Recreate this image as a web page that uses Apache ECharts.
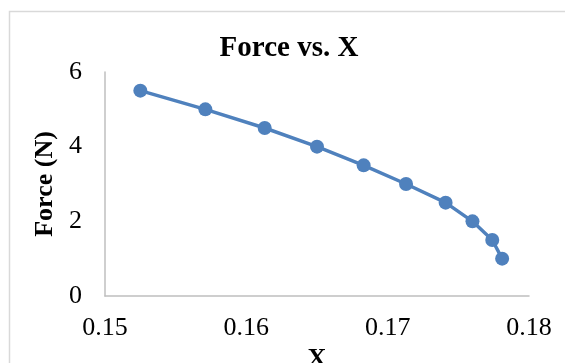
<!DOCTYPE html>
<html>
<head>
<meta charset="utf-8">
<script src="https://cdn.jsdelivr.net/npm/echarts@6/dist/echarts.min.js"></script>
<style>
html,body{margin:0;padding:0;background:#fff;}
#chart{width:565px;height:363px;}
</style>
</head>
<body>
<div id="chart"></div>
<script>
// Data
const xValues = [0.1525, 0.1571, 0.1613, 0.1650, 0.1683, 0.1713, 0.1741, 0.1760, 0.1774, 0.1781];
const forceValues = [5.5, 5.0, 4.5, 4.0, 3.5, 3.0, 2.5, 2.0, 1.5, 1.0];
const titleText = 'Force vs. X';
const xAxisName = 'X';
const yAxisName = 'Force (N)';
const xTicks = [0.15, 0.16, 0.17, 0.18];
const yTicks = [0, 2, 4, 6];

const FONT = '"Liberation Serif", "Times New Roman", serif';
const chart = echarts.init(document.getElementById('chart'), null, {renderer: 'canvas'});

const seriesData = xValues.map((x, i) => [x, forceValues[i]]);

chart.setOption({
  animation: false,
  backgroundColor: '#ffffff',
  graphic: [{
    type: 'rect',
    left: 7, top: 9,
    shape: {width: 620, height: 420},
    style: {fill: 'none', stroke: '#d9d9d9', lineWidth: 1.5},
    silent: true
  }],
  title: {
    text: titleText,
    left: 284,
    textAlign: 'center',
    top: 29,
    textStyle: {fontFamily: FONT, fontWeight: 'bold', fontSize: 29, color: '#000'}
  },
  grid: {left: 105, right: 36, top: 72, bottom: 67, containLabel: false, outerBoundsMode: 'none'},
  xAxis: {
    type: 'value',
    min: xTicks[0],
    max: xTicks[xTicks.length - 1],
    interval: 0.01,
    name: xAxisName,
    nameLocation: 'middle',
    nameGap: 44,
    nameTextStyle: {fontFamily: FONT, fontWeight: 'bold', fontSize: 26, color: '#000'},
    axisLine: {show: true, lineStyle: {color: '#bfbfbf', width: 1.5}},
    axisTick: {show: false},
    splitLine: {show: false},
    axisLabel: {
      fontFamily: FONT, fontSize: 26, color: '#000', margin: 19,
      formatter: v => Number(v).toFixed(2)
    }
  },
  yAxis: {
    type: 'value',
    min: yTicks[0],
    max: yTicks[yTicks.length - 1],
    interval: 2,
    name: yAxisName,
    nameLocation: 'middle',
    nameGap: 45,
    nameTextStyle: {fontFamily: FONT, fontWeight: 'bold', fontSize: 26, color: '#000'},
    axisLine: {show: true, lineStyle: {color: '#bfbfbf', width: 1.5}},
    axisTick: {show: false},
    splitLine: {show: false},
    axisLabel: {fontFamily: FONT, fontSize: 26, color: '#000', margin: 23}
  },
  series: [{
    type: 'line',
    data: seriesData,
    symbol: 'circle',
    symbolSize: 14,
    lineStyle: {color: '#4F81BD', width: 3.5},
    itemStyle: {color: '#4F81BD'},
    smooth: false
  }]
});
</script>
</body>
</html>
